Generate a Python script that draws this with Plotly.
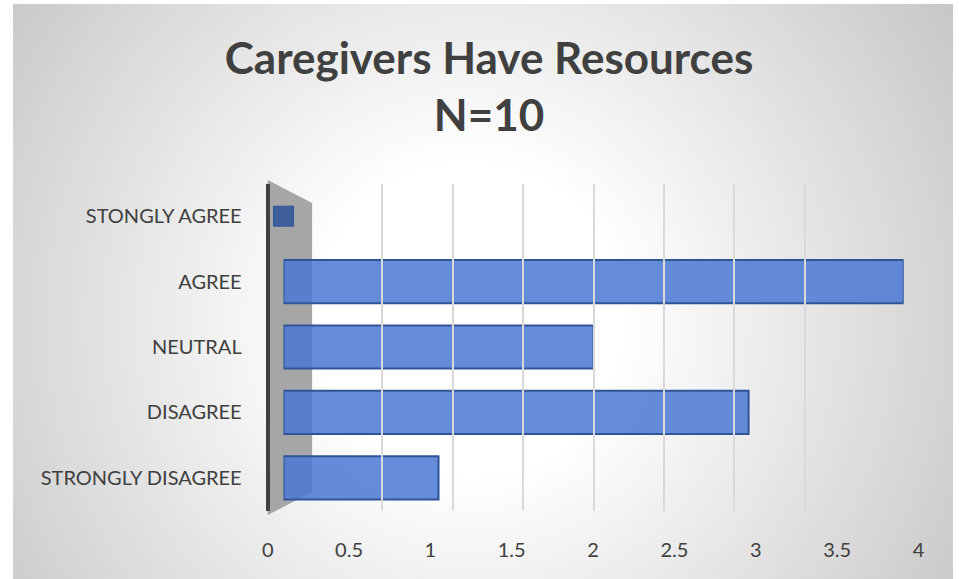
import base64
import plotly.graph_objects as go

# ---- data ----
categories = ["STONGLY AGREE", "AGREE", "NEUTRAL", "DISAGREE", "STRONGLY DISAGREE"]
counts = [0, 4, 2, 3, 1]
tick_values = [0, 0.5, 1, 1.5, 2, 2.5, 3, 3.5, 4]
tick_labels = ["0", "0.5", "1", "1.5", "2", "2.5", "3", "3.5", "4"]
title_text = "Caregivers Have Resources<br>N=10"

W, H = 959, 579


def fx(px):
    return px / W


def fy(py):
    return 1 - py / H


TEXT = "#404040"
FONT = "Lato"

# background radial gradient (chart area)
bw, bh = 952, 575
svg = f'''<svg xmlns="http://www.w3.org/2000/svg" width="{bw}" height="{bh}" viewBox="0 0 {bw} {bh}" preserveAspectRatio="none">
<defs><radialGradient id="g" gradientUnits="userSpaceOnUse" cx="463" cy="316" r="620">
<stop offset="0" stop-color="#FFFFFF"/><stop offset="0.25" stop-color="#FFFFFF"/><stop offset="1" stop-color="#C2C2C2"/>
</radialGradient></defs><rect x="0" y="0" width="{bw}" height="{bh}" fill="url(#g)"/></svg>'''
bg_src = "data:image/svg+xml;base64," + base64.b64encode(svg.encode()).decode()

fig = go.Figure()

fig.add_trace(go.Bar(
    x=counts, y=categories, orientation="h",
    xaxis="x", yaxis="y",
    marker=dict(color="rgba(74,120,212,0.85)",
                line=dict(color="#2F5597", width=[0 if c == 0 else 2 for c in counts])),
    hoverinfo="x+y", showlegend=False,
))

# zero-valued categories still show the bar's end cap
zero_x = [c for c in counts if c == 0]
zero_y = [cat for cat, c in zip(categories, counts) if c == 0]
fig.add_trace(go.Scatter(
    x=zero_x, y=zero_y, mode="markers", xaxis="x", yaxis="y",
    marker=dict(symbol="square", size=20, color="#3F5F9C", line=dict(color="#2F5597", width=1)),
    showlegend=False, hoverinfo="skip", cliponaxis=False,
))

# empty traces so the label axis and the back-wall grid axis are drawn
fig.add_trace(go.Scatter(x=[], y=[], xaxis="x2", yaxis="y", showlegend=False, hoverinfo="skip"))
fig.add_trace(go.Scatter(x=[], y=[], xaxis="x3", yaxis="y", showlegend=False, hoverinfo="skip"))

plot_top, plot_bot = 183.5, 510.5

fig.update_layout(
    width=W, height=H,
    margin=dict(l=0, r=0, t=0, b=0),
    paper_bgcolor="white",
    plot_bgcolor="rgba(0,0,0,0)",
    bargap=0.34,
    title=dict(
        text=title_text, x=0.51, xanchor="center", xref="paper",
        y=fy(74), yanchor="top", yref="paper",
        font=dict(family=FONT, size=44, color=TEXT, weight="bold"),
    ),
    # bar scale
    xaxis=dict(
        domain=[fx(281), fx(909)], range=[0, 4], anchor="y",
        showgrid=False, zeroline=False, showticklabels=False, showline=False, fixedrange=True,
    ),
    # front axis with tick labels
    xaxis2=dict(
        domain=[fx(265), fx(924)], range=[0, 4], anchor="free", position=fy(536),
        tickvals=tick_values, ticktext=tick_labels, showgrid=False, zeroline=False,
        showline=False, ticks="", tickfont=dict(family=FONT, size=20, color=TEXT),
    ),
    # back wall gridlines
    xaxis3=dict(
        domain=[fx(310), fx(880)], range=[0, 4], anchor="y",
        tickvals=tick_values, showticklabels=False, showgrid=True, gridcolor="#D9D9D9",
        gridwidth=1.5, zeroline=False, showline=False, ticks="",
    ),
    yaxis=dict(
        domain=[fy(plot_bot), fy(plot_top)], type="category", categoryarray=categories,
        categoryorder="array", autorange="reversed", anchor="free", position=fx(265),
        showline=True, linecolor="#404040", linewidth=4, showgrid=False, zeroline=False,
        ticks="", ticklabelstandoff=20, tickfont=dict(family=FONT, size=20, color=TEXT),
    ),
    images=[dict(
        source=bg_src, xref="paper", yref="paper", x=fx(7), y=fy(4),
        sizex=fx(959) - fx(7), sizey=fy(4) - fy(579), sizing="stretch",
        xanchor="left", yanchor="top", layer="below",
    )],
    shapes=[dict(
        type="path", xref="paper", yref="paper", layer="below",
        path=(f"M {fx(265)},{fy(180)} L {fx(310)},{fy(203)} "
              f"L {fx(310)},{fy(492)} L {fx(265)},{fy(515)} Z"),
        fillcolor="#A6A6A6", line=dict(width=0),
    )],
)

fig.write_html("out.html", config={"displayModeBar": False},
               post_script="document.body.style.margin='0px';")
